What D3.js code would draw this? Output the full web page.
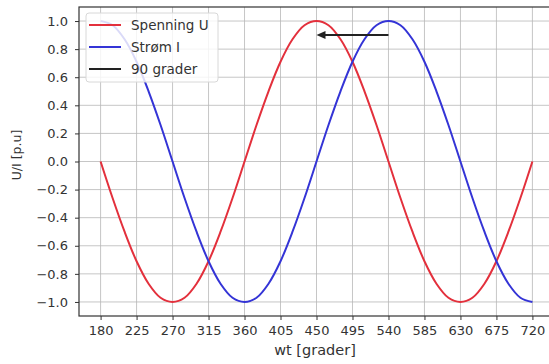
<!DOCTYPE html>
<html>
<head>
<meta charset="utf-8">
<script src="https://cdn.jsdelivr.net/npm/d3@7"></script>
<style>
  body { margin: 0; background: #fff; }
  svg { display: block; font-family: "DejaVu Sans", sans-serif; }
</style>
</head>
<body>
<script>
// values, every 15 degrees
const wt = [180,195,210,225,240,255,270,285,300,315,330,345,360,375,390,405,420,435,450,465,480,495,510,525,540,555,570,585,600,615,630,645,660,675,690,705,720];
const spenning = [0,-0.26,-0.5,-0.71,-0.87,-0.97,-1,-0.97,-0.87,-0.71,-0.5,-0.26,0,0.26,0.5,0.71,0.87,0.97,1,0.97,0.87,0.71,0.5,0.26,0,-0.26,-0.5,-0.71,-0.87,-0.97,-1,-0.97,-0.87,-0.71,-0.5,-0.26,0];
const strom = [1,0.97,0.87,0.71,0.5,0.26,0,-0.26,-0.5,-0.71,-0.87,-0.97,-1,-0.97,-0.87,-0.71,-0.5,-0.26,0,0.26,0.5,0.71,0.87,0.97,1,0.97,0.87,0.71,0.5,0.26,0,-0.26,-0.5,-0.71,-0.87,-0.97,-1];
const xTicks = [180,225,270,315,360,405,450,495,540,585,630,675,720];
const yTicks = [-1.0,-0.8,-0.6,-0.4,-0.2,0.0,0.2,0.4,0.6,0.8,1.0];
const arrow = {from: 540, to: 450, y: 0.9};
const legendItems = [
  {label: "Spenning U", color: "#e3303c"},
  {label: "Strøm I", color: "#3434d6"},
  {label: "90 grader", color: "#222222"}
];

const width = 549, height = 364;
const margin = {top: 7, right: -5, bottom: 48, left: 79};

const x = d3.scaleLinear().domain([153, 747]).range([margin.left, width - margin.right]);
const y = d3.scaleLinear().domain([-1.1, 1.1]).range([height - margin.bottom, margin.top]);

const svg = d3.select("body").append("svg").attr("width", width).attr("height", height);

const defs = svg.append("defs");
defs.append("clipPath").attr("id", "plot-clip").append("rect")
  .attr("x", margin.left).attr("y", margin.top)
  .attr("width", x.range()[1] - margin.left).attr("height", y.range()[0] - margin.top);

// grid
const grid = svg.append("g").attr("stroke", "#b7b7b7").attr("stroke-width", 0.8);
grid.selectAll("line.gx").data(xTicks).join("line").attr("class", "gx")
  .attr("x1", d => x(d)).attr("x2", d => x(d)).attr("y1", y.range()[1]).attr("y2", y.range()[0]);
grid.selectAll("line.gy").data(yTicks).join("line").attr("class", "gy")
  .attr("x1", margin.left).attr("x2", x.range()[1]).attr("y1", d => y(d)).attr("y2", d => y(d));

const fmt = d => d3.format(".1f")(d).replace("-", "\u2212");

const xAxis = d3.axisBottom(x).tickValues(xTicks).tickSize(4).tickPadding(6);
const yAxis = d3.axisLeft(y).tickValues(yTicks).tickFormat(fmt).tickSize(4).tickPadding(7);

svg.append("g").attr("transform", `translate(0,${y.range()[0]})`).call(xAxis)
  .call(g => g.select(".domain").remove())
  .call(g => g.selectAll(".tick line").attr("stroke", "#333"))
  .call(g => g.selectAll(".tick text").attr("fill", "#333").attr("font-size", "13px").attr("font-family", "DejaVu Sans"));
svg.append("g").attr("transform", `translate(${margin.left},0)`).call(yAxis)
  .call(g => g.select(".domain").remove())
  .call(g => g.selectAll(".tick line").attr("stroke", "#333"))
  .call(g => g.selectAll(".tick text").attr("fill", "#333").attr("font-size", "13px").attr("font-family", "DejaVu Sans"));

// spines
svg.append("rect").attr("x", margin.left).attr("y", margin.top)
  .attr("width", x.range()[1] - margin.left).attr("height", y.range()[0] - margin.top)
  .attr("fill", "none").attr("stroke", "#333").attr("stroke-width", 1.2);

const lineGen = vals => d3.line().x((d, i) => x(wt[i])).y(d => y(d)).curve(d3.curveCatmullRom.alpha(0.5))(vals);

const plot = svg.append("g").attr("clip-path", "url(#plot-clip)");
plot.append("path").attr("d", lineGen(spenning)).attr("fill", "none").attr("stroke", legendItems[0].color).attr("stroke-width", 2);
plot.append("path").attr("d", lineGen(strom)).attr("fill", "none").attr("stroke", legendItems[1].color).attr("stroke-width", 2);

// arrow
const ay = y(arrow.y);
plot.append("line").attr("x1", x(arrow.from)).attr("x2", x(arrow.to) + 6).attr("y1", ay).attr("y2", ay)
  .attr("stroke", "#222").attr("stroke-width", 2);
plot.append("path")
  .attr("d", `M${x(arrow.to)},${ay} L${x(arrow.to) + 9},${ay - 4} L${x(arrow.to) + 9},${ay + 4} Z`)
  .attr("fill", "#222");

// axis labels
svg.append("text").attr("x", 315).attr("y", 355).attr("text-anchor", "middle")
  .attr("font-size", "14.5px").attr("fill", "#333").text("wt [grader]");
svg.append("text").attr("transform", `translate(21,155) rotate(-90)`).attr("text-anchor", "middle")
  .attr("font-size", "12.5px").attr("fill", "#333").text("U/I [p.u]");

// legend
const lg = svg.append("g").attr("transform", `translate(86,13)`);
lg.append("rect").attr("width", 132).attr("height", 69).attr("rx", 3)
  .attr("fill", "rgba(255,255,255,0.82)").attr("stroke", "#d8d8d8");
legendItems.forEach((d, i) => {
  const cy = 12 + i * 22;
  lg.append("line").attr("x1", 3).attr("x2", 35).attr("y1", cy).attr("y2", cy)
    .attr("stroke", d.color).attr("stroke-width", 2);
  lg.append("text").attr("x", 45).attr("y", cy + 5).attr("font-size", "13.5px").attr("fill", "#333").text(d.label);
});
</script>
</body>
</html>
